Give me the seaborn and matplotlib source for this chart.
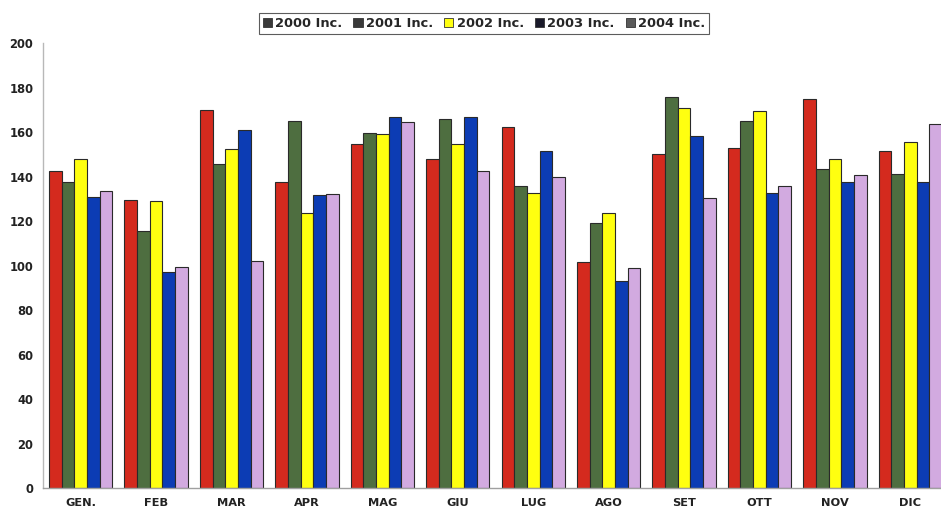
import numpy as np
import pandas as pd
import matplotlib
matplotlib.use("Agg")
import matplotlib.pyplot as plt
import seaborn as sns
from matplotlib.patches import Patch

months = ["GEN.", "FEB", "MAR", "APR", "MAG", "GIU", "LUG", "AGO", "SET", "OTT", "NOV", "DIC"]
series = ["2000 Inc.", "2001 Inc.", "2002 Inc.", "2003 Inc.", "2004 Inc."]
v2000 = [142.6, 129.4, 169.9, 137.5, 154.4, 147.7, 162.2, 101.6, 150.0, 152.8, 174.8, 151.6]
v2001 = [137.4, 115.5, 145.5, 164.8, 159.7, 165.7, 135.6, 119.2, 175.9, 164.8, 143.5, 141.1]
v2002 = [147.7, 129.1, 152.5, 123.7, 159.3, 154.4, 132.4, 123.5, 170.8, 169.4, 147.7, 155.3]
v2003 = [130.6, 96.9, 160.9, 131.5, 166.6, 166.9, 151.6, 93.0, 158.2, 132.4, 137.7, 137.7]
v2004 = [133.6, 99.5, 102.0, 132.0, 164.5, 142.3, 139.9, 98.7, 130.5, 135.9, 140.7, 163.7]
y_ticks = [0, 20, 40, 60, 80, 100, 120, 140, 160, 180, 200]

colors = ["#d42a1e", "#4e6e40", "#ffff10", "#0c3cb4", "#d2aae0"]
legend_colors = ["#3a3a3a", "#3a3a3a", "#ffff10", "#1a1a2a", "#5a5a5a"]

df = pd.DataFrame({
    "month": months * 5,
    "series": np.repeat(series, len(months)),
    "value": v2000 + v2001 + v2002 + v2003 + v2004,
})

sns.set_theme(style="white")
plt.rcParams["font.family"] = ["DejaVu Sans"]

fig = plt.figure(figsize=(9.41, 5.11), dpi=100)
ax = fig.add_axes([43 / 941, 23 / 511, 905 / 941, 445 / 511])

sns.barplot(data=df, x="month", y="value", hue="series", order=months,
            hue_order=series, palette=colors, width=0.84, ax=ax,
            edgecolor="#2a2a2a", linewidth=0.8, legend=False, errorbar=None,
            saturation=1)

ax.set_xlim(-0.5, 11.5)
ax.set_ylim(0, 200)
ax.set_yticks(y_ticks)
ax.set_yticklabels([str(t) for t in y_ticks], fontsize=8.3, fontweight="bold", color="#222222")
ax.set_xticks(range(len(months)))
ax.set_xticklabels(months, fontsize=8.2, fontweight="bold", color="#222222")
ax.tick_params(axis="x", length=0, pad=7)
ax.tick_params(axis="y", length=0, pad=7)
ax.set_xlabel("")
ax.set_ylabel("")
for s in ["top", "right"]:
    ax.spines[s].set_visible(False)
ax.spines["left"].set_color("#b8b8b8")
ax.spines["bottom"].set_color("#a0a0a0")
ax.spines["left"].set_linewidth(1.0)
ax.spines["bottom"].set_linewidth(1.0)

handles = [Patch(facecolor=c, edgecolor="#333333", linewidth=0.6) for c in legend_colors]
leg = fig.legend(handles, series, loc="center", bbox_to_anchor=(484 / 941, 1 - 23.5 / 511),
                 ncol=5, frameon=True, fancybox=False, edgecolor="#333333",
                 prop={"weight": "bold", "size": 9.4}, handlelength=0.7, handleheight=0.7,
                 handletextpad=0.25, columnspacing=0.85, borderpad=0.3, borderaxespad=0)
leg.get_frame().set_linewidth(0.8)

fig.savefig("out.png", dpi=100)
